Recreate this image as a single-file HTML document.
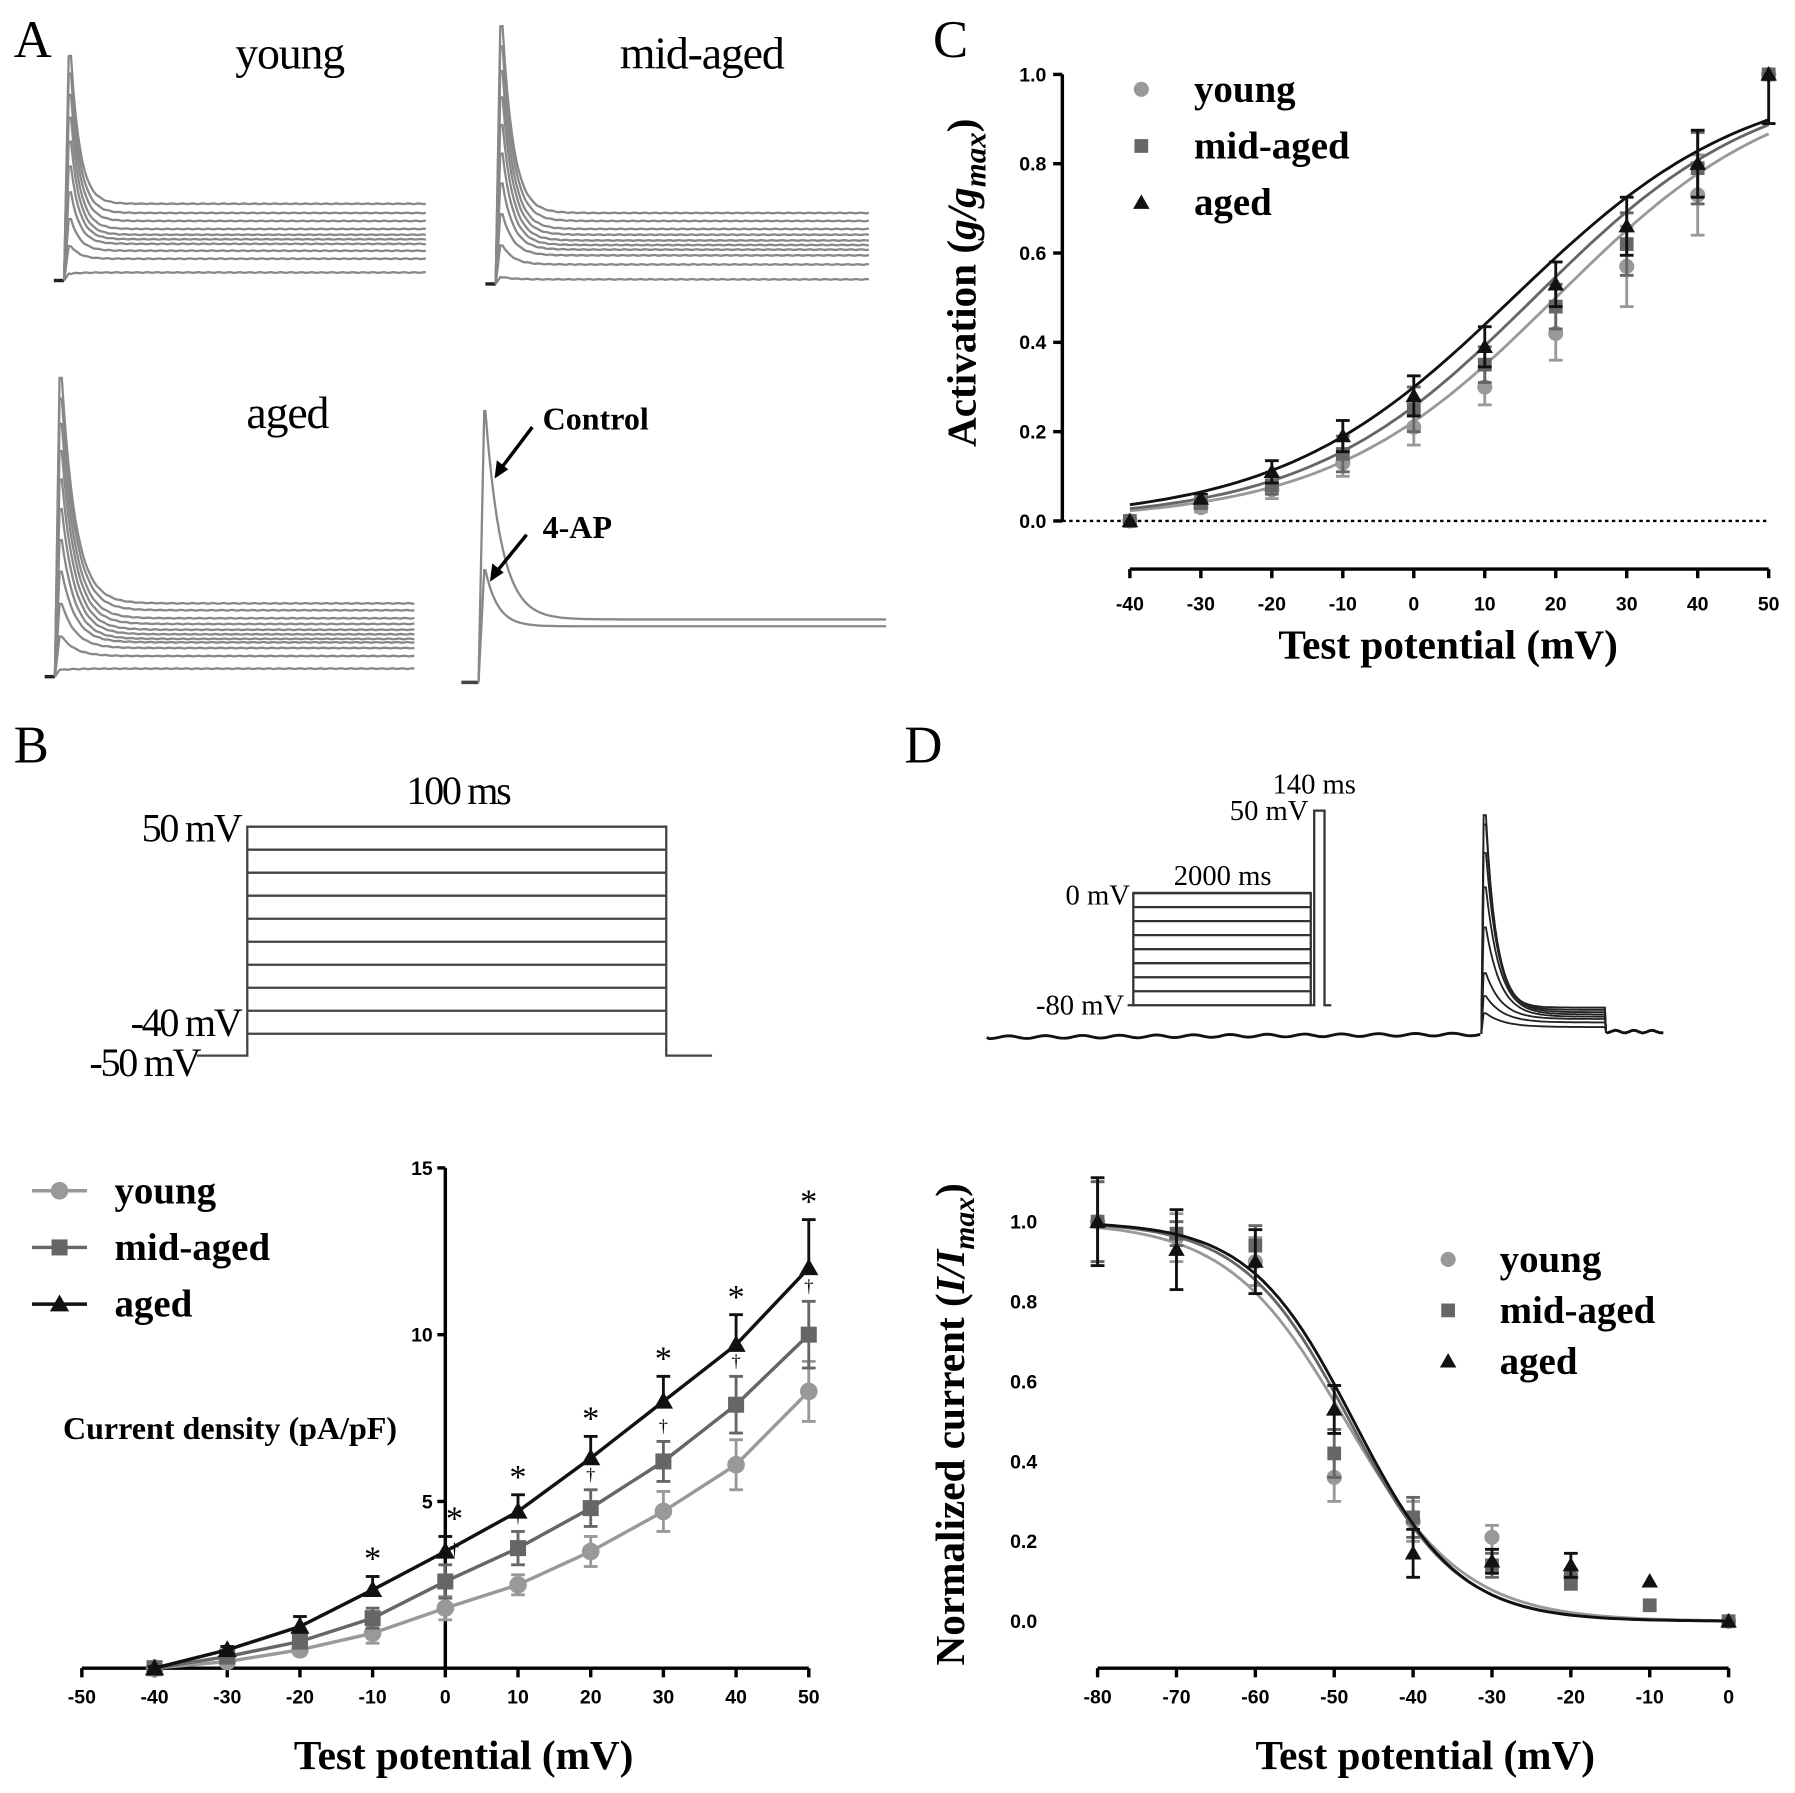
<!DOCTYPE html>
<html><head><meta charset="utf-8"><style>
html,body{margin:0;padding:0;background:#fff}
svg{display:block}
text{font-family:"Liberation Serif",serif}
.tk{font-family:"Liberation Sans",sans-serif;font-weight:bold;font-size:17px}
.ttl{font-weight:bold;font-size:36px}
.lg{font-weight:bold;font-size:34px}
.lbl{font-size:35px;letter-spacing:-2px}
</style></head><body>
<svg id="fig" width="1795" height="1793" viewBox="0 0 1568 1566" preserveAspectRatio="none" xmlns="http://www.w3.org/2000/svg">
<g id="root"></g>
</svg>
<script>
// ---------- Panel B data ----------
const bX = [-40,-30,-20,-10,0,10,20,30,40,50];
const bYoung = [0,0.2,0.55,1.05,1.8,2.5,3.5,4.7,6.1,8.3];
const bYoungErr = [0.05,0.1,0.15,0.3,0.35,0.3,0.45,0.6,0.75,0.9];
const bMid = [0,0.35,0.8,1.5,2.6,3.6,4.8,6.2,7.9,10.0];
const bMidErr = [0.05,0.1,0.2,0.3,0.5,0.5,0.55,0.6,0.85,1.0];
const bAged = [0,0.55,1.25,2.35,3.5,4.7,6.3,8.0,9.7,12.0];
const bAgedErr = [0.05,0.1,0.3,0.4,0.45,0.5,0.65,0.75,0.9,1.45];
const bXTicks = [-50,-40,-30,-20,-10,0,10,20,30,40,50];
const bYTicks = [5,10,15];
// ---------- Panel C data ----------
const cX = [-40,-30,-20,-10,0,10,20,30,40,50];
const cYoung = [0,0.03,0.07,0.13,0.21,0.30,0.42,0.57,0.73,1.0];
const cYoungErr = [0,0.01,0.02,0.03,0.04,0.04,0.06,0.09,0.09,0];
const cMid = [0,0.04,0.08,0.15,0.25,0.35,0.48,0.62,0.79,1.0];
const cMidErr = [0,0.01,0.02,0.04,0.05,0.04,0.05,0.07,0.08,0];
const cAged = [0,0.05,0.11,0.19,0.28,0.39,0.53,0.66,0.80,1.0];
const cAgedErr = [0,0.01,0.025,0.035,0.045,0.045,0.05,0.065,0.075,0.11];
const cFitVh = [20,17,14];
const cFitK = [16,16,16.5];
const cXTicks = [-40,-30,-20,-10,0,10,20,30,40,50];
const cYTicks = [0,0.2,0.4,0.6,0.8,1.0];
// ---------- Panel D data ----------
const dX = [-80,-70,-60,-50,-40,-30,-20,-10,0];
const dYoung = [1,0.96,0.90,0.36,0.25,0.21,0.11,null,0];
const dYoungErr = [0.1,0.06,0.06,0.06,0.05,0.03,0.02,0,0];
const dMid = [1,0.97,0.94,0.42,0.26,0.14,0.10,0.04,0];
const dMidErr = [0.1,0.03,0.05,0.06,0.05,0.03,0.02,0.01,0];
const dAged = [1,0.93,0.90,0.53,0.17,0.15,0.14,0.10,0];
const dAgedErr = [0.11,0.1,0.08,0.06,0.06,0.03,0.03,0,0];
const dFitVh = [-48.5,-48,-47.5];
const dFitK = [7.5,6.8,6.6];
const dXTicks = [-80,-70,-60,-50,-40,-30,-20,-10,0];
const dYTicks = [0,0.2,0.4,0.6,0.8,1.0];
// ---------- Panel A traces ----------
const aYoungLevels = [178,186,193,200,205,209,213,219,226,238];
const aMidLevels = [186,193,200,205,210,214,218,223,231,244];
const aAgedLevels = [527,533,540,545,550,554,558,561,566,573,584];

const NS="http://www.w3.org/2000/svg";
const root=document.getElementById('root');
function el(tag,attrs,parent){const e=document.createElementNS(NS,tag);for(const k in attrs)e.setAttribute(k,attrs[k]);(parent||root).appendChild(e);return e;}
function txt(s,x,y,cls,anchor,parent,extra){const t=el('text',Object.assign({x:x,y:y,class:cls||'','text-anchor':anchor||'start'},extra||{}),parent);t.textContent=s;return t;}
const COL=['#999','#666','#111'];

function marker(g,kind,x,y,c,s){
  let m;
  if(kind===0){m=el('circle',{cx:x,cy:y,r:s*0.55,fill:c},g);}
  else if(kind===1){m=el('rect',{x:x-s/2,y:y-s/2,width:s,height:s,fill:c},g);}
  else {m=el('polygon',{points:`${x},${y-s*0.6} ${x-s*0.6},${y+s*0.45} ${x+s*0.6},${y+s*0.45}`,fill:c},g);}
  
  
  return m;
}
function errbar(g,x,y1,y2,c,w){
  const l=el('line',{x1:x,y1:y1,x2:x,y2:y2,stroke:c,'stroke-width':2.5},g);
  
  
  el('line',{x1:x-w,y1:y2,x2:x+w,y2:y2,stroke:c,'stroke-width':2.5},g);
}

// ---------- Panel letters ----------
[['A',12,50],['B',12,666],['C',815,50],['D',790,666]].forEach(p=>{
  const t=txt(p[0],p[1],p[2],'', 'start',root,{'font-size':46});
  
  
});

// ---------- Panel A ----------
const gA=el('g',{});


function traceSet(x0,xe,base,peakTop,levels,tau,label){
  const g=el('g',{},gA);
  
  
  el('line',{x1:x0-9,y1:base,x2:x0,y2:base,stroke:'#222','stroke-width':3},g);
  const n=levels.length;
  levels.forEach((lv,i)=>{
    const pk=peakTop+(base-6-peakTop)*Math.pow(i/(n-1),1.15);
    let d=`M${x0},${base} L${x0+4},${pk}`;
    for(let x=x0+6;x<=xe;x+=2){
      const t=x-(x0+6);
      const y=lv+(pk-lv)*Math.exp(-t/tau);
      d+=` L${x},${(y+Math.sin(x*0.7+i)*0.3).toFixed(1)}`;
    }
    el('path',{d:d,fill:'none',stroke:'#888','stroke-width':2},g);
  });
}
traceSet(56,373,245,49,aYoungLevels,8,'young');
traceSet(433,759,248,23,aMidLevels,9.5,'mid-aged');
traceSet(48,362,591,330,aAgedLevels,12,'aged');
(function(){
  const g=el('g',{},gA);
  
  
  const x0=418,base=596;
  el('line',{x1:403,y1:base,x2:x0,y2:base,stroke:'#444','stroke-width':3},g);
  [[359,541,14],[498,547,11]].forEach(p=>{
    let d=`M${x0},${base} L${x0+5},${p[0]}`;
    for(let x=x0+6;x<=774;x+=2){const t=x-x0-6;d+=` L${x},${(p[1]+(p[0]-p[1])*Math.exp(-t/p[2])).toFixed(1)}`;}
    el('path',{d:d,fill:'none',stroke:'#888','stroke-width':2},g);
  });
  el('line',{x1:465,y1:373,x2:434,y2:414,stroke:'#000','stroke-width':3},g);
  el('polygon',{points:'432,418 434,402 444,410',fill:'#000'},g);
  el('line',{x1:460,y1:467,x2:430,y2:504,stroke:'#000','stroke-width':3},g);
  el('polygon',{points:'428,508 430,492 440,500',fill:'#000'},g);
  txt('Control',474,375,'', 'start',g,{'font-size':28,'font-weight':'bold'});
  txt('4-AP',474,470,'', 'start',g,{'font-size':28,'font-weight':'bold'});
})();
[['young',253,60],['mid-aged',613,60],['aged',251,374]].forEach(p=>{
  const t=txt(p[0],p[1],p[2],'', 'middle',gA,{'font-size':40,'letter-spacing':'-1px'});
  
  
});

// ---------- Panel B protocol ----------
(function(){
  const g=el('g',{});
  
  
  el('path',{d:'M172,922 L216,922 L216,722 L582,722 L582,922 L622,922',fill:'none',stroke:'#444','stroke-width':2},g);
  for(let i=0;i<10;i++){const y=722+i*20.1;el('line',{x1:216,y1:y,x2:582,y2:y,stroke:'#444','stroke-width':2},g);}
  txt('100 ms',400,702,'lbl','middle',g);
  txt('50 mV',210,735,'lbl','end',g);
  txt('-40 mV',210,905,'lbl','end',g);
  txt('-50 mV',174,940,'lbl','end',g);
})();

// ---------- Panel B chart ----------
(function(){
  const g=el('g',{});
  
  
  const sx=v=>389+v*6.35, sy=v=>1457-v*29.13;
  el('line',{x1:sx(-50),y1:sy(0),x2:sx(50),y2:sy(0),stroke:'#000','stroke-width':3},g);
  el('line',{x1:389,y1:sy(0),x2:389,y2:sy(15),stroke:'#000','stroke-width':3},g);
  bXTicks.forEach(v=>{el('line',{x1:sx(v),y1:sy(0),x2:sx(v),y2:sy(0)+8,stroke:'#000','stroke-width':3},g);txt(v,sx(v),1488,'tk','middle',g);});
  bYTicks.forEach(v=>{el('line',{x1:382,y1:sy(v),x2:389,y2:sy(v),stroke:'#000','stroke-width':3},g);txt(v,378,sy(v)+6,'tk','end',g);});
  txt('Test potential (mV)',405,1545,'ttl','middle',g);
  txt('Current density (pA/pF)',55,1257,'', 'start',g,{'font-size':28,'font-weight':'bold'});
  const series=[[bYoung,bYoungErr],[bMid,bMidErr],[bAged,bAgedErr]];
  series.forEach((s,k)=>{
    const sg=el('g',{},g);
    
    
    const d=bX.map((x,i)=>(i?'L':'M')+sx(x)+','+sy(s[0][i])).join(' ');
    el('path',{d:d,fill:'none',stroke:COL[k],'stroke-width':3},sg);
    bX.forEach((x,i)=>{
      errbar(sg,sx(x),sy(s[0][i]),sy(s[0][i]+s[1][i]),COL[k],6);
      if(k<2) errbar(sg,sx(x),sy(s[0][i]),sy(s[0][i]-s[1][i]),COL[k],6);
      marker(sg,k,sx(x),sy(s[0][i]),COL[k],14);
      if(k===2&&x>=-10) txt('*',sx(x)+(x===0?8:0),sy(s[0][i]+s[1][i])-6,'', 'middle',sg,{'font-size':30});
      if(k===1&&x>=0) txt('†',sx(x)+(x===0?8:0),sy(s[0][i]+s[1][i])-8,'', 'middle',sg,{'font-size':16});
    });
  });
  ['young','mid-aged','aged'].forEach((n,k)=>{
    const y=1040+k*49.5;
    const lg=el('g',{},g);
    
    
    el('line',{x1:28,y1:y,x2:76,y2:y,stroke:COL[k],'stroke-width':3},lg);
    marker(lg,k,52,y,COL[k],14);
    txt(n,100,y+11,'lg','start',lg);
  });
})();

// ---------- Panel C chart ----------
(function(){
  const g=el('g',{});
  
  
  const sx=v=>987+(v+40)*6.2, sy=v=>455-v*390;
  el('line',{x1:928,y1:sy(0),x2:928,y2:sy(1),stroke:'#000','stroke-width':3},g);
  el('line',{x1:928,y1:sy(0),x2:sx(50),y2:sy(0),stroke:'#000','stroke-width':2,'stroke-dasharray':'3,3'},g);
  el('line',{x1:sx(-40),y1:497,x2:sx(50),y2:497,stroke:'#000','stroke-width':3},g);
  cXTicks.forEach(v=>{el('line',{x1:sx(v),y1:497,x2:sx(v),y2:505,stroke:'#000','stroke-width':3},g);txt(v,sx(v),533,'tk','middle',g);});
  cYTicks.forEach(v=>{el('line',{x1:920,y1:sy(v),x2:928,y2:sy(v),stroke:'#000','stroke-width':3},g);txt(v.toFixed(1),914,sy(v)+6,'tk','end',g);});
  txt('Test potential (mV)',1265,575,'ttl','middle',g);
  const yt=el('text',{x:0,y:0,class:'ttl','text-anchor':'middle',transform:'translate(852,247) rotate(-90)','font-size':40},g);
  yt.innerHTML='Activation (<tspan font-style="italic">g/g</tspan><tspan font-style="italic" font-size="27" dy="9">max</tspan><tspan dy="-9">)</tspan>';
  
  
  const series=[[cYoung,cYoungErr],[cMid,cMidErr],[cAged,cAgedErr]];
  series.forEach((s,k)=>{
    const sg=el('g',{},g);
    
    
    let d='';
    for(let v=-40;v<=50;v+=1){const y=1/(1+Math.exp(-(v-cFitVh[k])/cFitK[k]));d+=(v===-40?'M':'L')+sx(v)+','+sy(y).toFixed(1);}
    el('path',{d:d,fill:'none',stroke:COL[k],'stroke-width':2.5},sg);
    cX.forEach((x,i)=>{
      if(s[1][i]>0){
        if(x<50) errbar(sg,sx(x),sy(s[0][i]),sy(s[0][i]+s[1][i]),COL[k],6);
        errbar(sg,sx(x),sy(s[0][i]),sy(s[0][i]-s[1][i]),COL[k],6);
      }
      marker(sg,k,sx(x),sy(s[0][i]),COL[k],12);
    });
  });
  ['young','mid-aged','aged'].forEach((n,k)=>{
    const y=78+k*49.5;
    const lg=el('g',{},g);
    
    
    marker(lg,k,997,y,COL[k],12);
    txt(n,1043,y+11,'lg','start',lg);
  });
})();

// ---------- Panel D protocol + trace ----------
(function(){
  const g=el('g',{});
  
  
  el('path',{d:'M985,878 L990,878 L990,780 L1145,780 L1145,878 L1148,878 L1148,708 L1157,708 L1157,878 L1163,878',fill:'none',stroke:'#333','stroke-width':2},g);
  for(let i=0;i<9;i++){const y=780+i*12.25;el('line',{x1:990,y1:y,x2:1145,y2:y,stroke:'#333','stroke-width':2},g);}
  txt('140 ms',1148,693,'', 'middle',g,{'font-size':25});
  txt('50 mV',1143,716,'', 'end',g,{'font-size':25});
  txt('2000 ms',1068,773,'', 'middle',g,{'font-size':25});
  txt('0 mV',987,790,'', 'end',g,{'font-size':25});
  txt('-80 mV',982,886,'', 'end',g,{'font-size':25});
  let d='M862,906';
  for(let x=864;x<=1293;x+=3){d+=` L${x},${(906-(x-862)*0.006+Math.sin(x*1.9)*1.2).toFixed(1)}`;}
  el('path',{d:d,fill:'none',stroke:'#111','stroke-width':2.5},g);
  const lv=[880,882,884,886,888,890,893,897];
  const pk=[712,720,745,775,810,850,870,885];
  lv.forEach((l,i)=>{
    let p=`M1294,903 L1296,${pk[i]}`;
    for(let x=1298;x<=1403;x+=2){p+=` L${x},${(l+(pk[i]-l)*Math.exp(-(x-1298)/(9+i))).toFixed(1)}`;}
    p+=' L1403,902';
    el('path',{d:p,fill:'none',stroke:'#222','stroke-width':1.6},g);
  });
  let d2='M1403,902';
  for(let x=1405;x<=1453;x+=3){d2+=` L${x},${(901+Math.sin(x*1.7)*1.2).toFixed(1)}`;}
  el('path',{d:d2,fill:'none',stroke:'#111','stroke-width':2.5},g);
})();

// ---------- Panel D chart ----------
(function(){
  const g=el('g',{});
  
  
  const sx=v=>1510+v*6.89, sy=v=>1416-v*349;
  el('line',{x1:sx(-80),y1:1457,x2:sx(0),y2:1457,stroke:'#000','stroke-width':3},g);
  dXTicks.forEach(v=>{el('line',{x1:sx(v),y1:1457,x2:sx(v),y2:1465,stroke:'#000','stroke-width':3},g);txt(v,sx(v),1488,'tk','middle',g);});
  dYTicks.forEach(v=>{txt(v.toFixed(1),906,sy(v)+6,'tk','end',g);});
  txt('Test potential (mV)',1245,1545,'ttl','middle',g);
  const yt=el('text',{x:0,y:0,class:'ttl','text-anchor':'middle',transform:'translate(842,1244) rotate(-90)','font-size':38},g);
  yt.innerHTML='Normalized current (<tspan font-style="italic">I/I</tspan><tspan font-style="italic" font-size="26" dy="9">max</tspan><tspan dy="-9">)</tspan>';
  
  
  const series=[[dYoung,dYoungErr],[dMid,dMidErr],[dAged,dAgedErr]];
  series.forEach((s,k)=>{
    const sg=el('g',{},g);
    
    
    let d='';
    for(let v=-80;v<=0;v+=1){const y=1/(1+Math.exp((v-dFitVh[k])/dFitK[k]));d+=(v===-80?'M':'L')+sx(v)+','+sy(y).toFixed(1);}
    el('path',{d:d,fill:'none',stroke:COL[k],'stroke-width':2.5},sg);
    dX.forEach((x,i)=>{
      const v=s[0][i]; if(v===null) return;
      if(s[1][i]>0){errbar(sg,sx(x),sy(v),sy(v+s[1][i]),COL[k],6);errbar(sg,sx(x),sy(v),sy(v-s[1][i]),COL[k],6);}
      marker(sg,k,sx(x),sy(v),COL[k],12);
    });
  });
  ['young','mid-aged','aged'].forEach((n,k)=>{
    const y=1100+k*44.5;
    const lg=el('g',{},g);
    
    
    marker(lg,k,1265,y,COL[k],12);
    txt(n,1310,y+11,'lg','start',lg);
  });
})();
</script>
</body></html>
